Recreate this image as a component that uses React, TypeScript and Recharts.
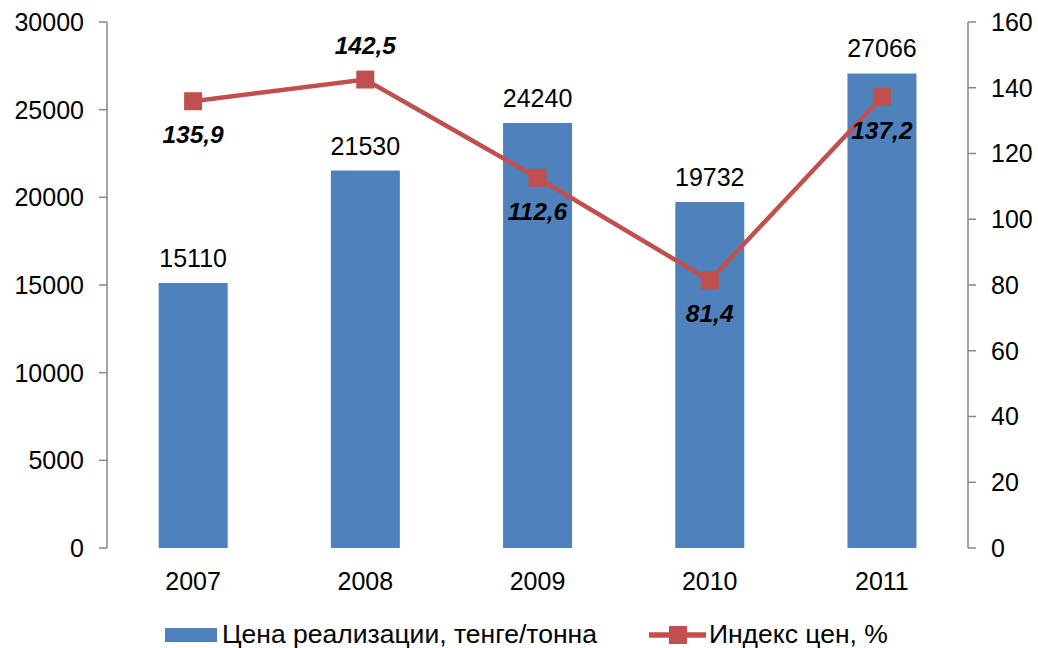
import {
  ComposedChart,
  Bar,
  Line,
  XAxis,
  YAxis,
  Legend,
  LabelList,
} from "recharts";

const years = ["2007", "2008", "2009", "2010", "2011"];
const prices = [15110, 21530, 24240, 19732, 27066];
const priceIndex = [135.9, 142.5, 112.6, 81.4, 137.2];
const leftTicks = [0, 5000, 10000, 15000, 20000, 25000, 30000];
const rightTicks = [0, 20, 40, 60, 80, 100, 120, 140, 160];
const boundaryTicks = [0, 1, 2, 3, 4, 5];

const BAR_NAME = "Цена реализации, тенге/тонна";
const LINE_NAME = "Индекс цен, %";

const BLUE = "#4F81BD";
const RED = "#C0504D";
const AXIS = "#868686";
const FONT = "'Liberation Sans', Arial, sans-serif";
const NUM_SIZE = 25;

const data = years.map((y, i) => ({ year: y, price: prices[i], index: priceIndex[i] }));

// index label goes above the marker for 2008, below for the rest
const aboveLabel = [false, true, false, false, false];

function IndexLabel(props: any) {
  const { x, y, value, index } = props;
  const dy = aboveLabel[index] ? -26 : 42;
  return (
    <text
      x={x}
      y={y + dy}
      textAnchor="middle"
      fontSize={24.5}
      fontWeight="bold"
      fontStyle="italic"
      fill="#000"
      fontFamily={FONT}
    >
      {String(value).replace(".", ",")}
    </text>
  );
}

function SquareDot(props: any) {
  const { cx, cy } = props;
  if (cx == null || cy == null) return null;
  return <rect x={cx - 9} y={cy - 9} width={18} height={18} fill={RED} />;
}

function LegendContent() {
  return (
    <div
      style={{
        display: "flex",
        justifyContent: "flex-start",
        alignItems: "center",
        fontFamily: FONT,
        fontSize: 26.5,
        color: "#000",
        paddingLeft: 165,
        paddingTop: 11,
        whiteSpace: "nowrap",
      }}
    >
      <svg width={52} height={16} style={{ marginRight: 5 }}>
        <rect x={0} y={1} width={52} height={14} fill={BLUE} />
      </svg>
      <span style={{ marginRight: 52 }}>{BAR_NAME}</span>
      <svg width={57} height={20} style={{ marginRight: 3 }}>
        <line x1={0} y1={10} x2={57} y2={10} stroke={RED} strokeWidth={5.5} />
        <rect x={20} y={1} width={18} height={18} fill={RED} />
      </svg>
      <span>{LINE_NAME}</span>
    </div>
  );
}

export default function App() {
  return (
    <div style={{ position: "absolute", left: 0, top: 0, width: 1038, height: 648, background: "#fff" }}>
      <ComposedChart
        width={1038}
        height={648}
        data={data}
        margin={{ top: 22, right: 0, left: 0, bottom: 0 }}
        barCategoryGap="30%"
      >
        <XAxis
          xAxisId="edges"
          type="number"
          domain={[0, 5]}
          ticks={boundaryTicks}
          height={0}
          axisLine={{ stroke: AXIS, strokeWidth: 1.5 }}
          tickLine={{ stroke: AXIS, strokeWidth: 1.5 }}
          tickSize={9}
          tick={false}
        />
        <XAxis
          xAxisId="cat"
          dataKey="year"
          height={60}
          axisLine={false}
          tickLine={false}
          tickMargin={18}
          tick={{ fontSize: NUM_SIZE, fill: "#000", fontFamily: FONT }}
        />
        <YAxis
          yAxisId="left"
          domain={[0, 30000]}
          ticks={leftTicks}
          width={107}
          axisLine={{ stroke: AXIS, strokeWidth: 1.5 }}
          tickLine={{ stroke: AXIS, strokeWidth: 1.5 }}
          tickSize={8}
          tickMargin={15}
          tick={{ fontSize: NUM_SIZE, fill: "#000", fontFamily: FONT }}
        />
        <YAxis
          yAxisId="right"
          orientation="right"
          domain={[0, 160]}
          ticks={rightTicks}
          width={70}
          axisLine={{ stroke: AXIS, strokeWidth: 1.5 }}
          tickLine={{ stroke: AXIS, strokeWidth: 1.5 }}
          tickSize={8}
          tickMargin={15}
          tick={{ fontSize: NUM_SIZE, fill: "#000", fontFamily: FONT }}
        />
        <Legend verticalAlign="bottom" height={40} content={<LegendContent />} />
        <Bar
          xAxisId="cat"
          yAxisId="left"
          dataKey="price"
          name={BAR_NAME}
          fill={BLUE}
          isAnimationActive={false}
        >
          <LabelList
            dataKey="price"
            position="top"
            offset={16}
            fill="#000"
            fontSize={NUM_SIZE}
            fontFamily={FONT}
          />
        </Bar>
        <Line
          xAxisId="cat"
          yAxisId="right"
          type="linear"
          dataKey="index"
          name={LINE_NAME}
          stroke={RED}
          strokeWidth={4.5}
          dot={<SquareDot />}
          activeDot={false}
          isAnimationActive={false}
        >
          <LabelList dataKey="index" content={<IndexLabel />} />
        </Line>
      </ComposedChart>
    </div>
  );
}
